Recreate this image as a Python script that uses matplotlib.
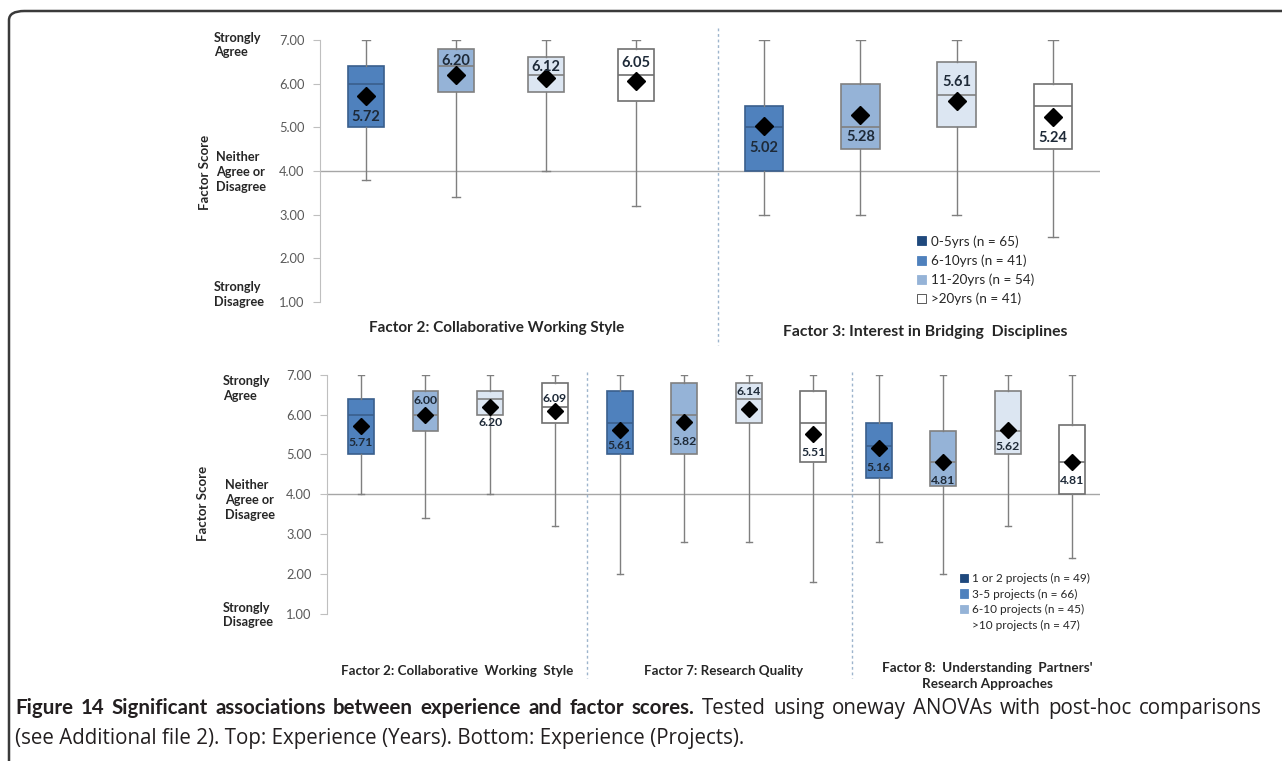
import matplotlib
matplotlib.use("Agg")
import matplotlib.pyplot as plt
from matplotlib.patches import Patch, FancyBboxPatch
from matplotlib.lines import Line2D

W, H = 1282, 761

# ---- data ----
groups_top = ["0-5yrs", "6-10yrs", "11-20yrs", ">20yrs"]
n_top = [65, 41, 54, 41]
groups_bot = ["1 or 2 projects", "3-5 projects", "6-10 projects", ">10 projects"]
n_bot = [49, 66, 45, 47]

# Top: Factor 2, Factor 3 (by years)
top_f2_low = [3.8, 3.4, 4.0, 3.2]
top_f2_q1 = [5.0, 5.8, 5.8, 5.6]
top_f2_med = [6.0, 6.4, 6.2, 6.2]
top_f2_q3 = [6.4, 6.8, 6.6, 6.8]
top_f2_high = [7.0, 7.0, 7.0, 7.0]
top_f2_mean = [5.72, 6.20, 6.12, 6.05]

top_f3_low = [3.0, 3.0, 3.0, 2.5]
top_f3_q1 = [4.0, 4.5, 5.0, 4.5]
top_f3_med = [5.0, 5.0, 5.75, 5.5]
top_f3_q3 = [5.5, 6.0, 6.5, 6.0]
top_f3_high = [7.0, 7.0, 7.0, 7.0]
top_f3_mean = [5.02, 5.28, 5.61, 5.24]

# Bottom: Factor 2, Factor 7, Factor 8 (by projects)
bot_f2_low = [4.0, 3.4, 4.0, 3.2]
bot_f2_q1 = [5.0, 5.6, 6.0, 5.8]
bot_f2_med = [6.0, 6.0, 6.4, 6.2]
bot_f2_q3 = [6.4, 6.6, 6.6, 6.8]
bot_f2_high = [7.0, 7.0, 7.0, 7.0]
bot_f2_mean = [5.71, 6.00, 6.20, 6.09]

bot_f7_low = [2.0, 2.8, 2.8, 1.8]
bot_f7_q1 = [5.0, 5.0, 5.8, 4.8]
bot_f7_med = [5.8, 6.0, 6.4, 5.8]
bot_f7_q3 = [6.6, 6.8, 6.8, 6.6]
bot_f7_high = [7.0, 7.0, 7.0, 7.0]
bot_f7_mean = [5.61, 5.82, 6.14, 5.51]

bot_f8_low = [2.8, 2.0, 3.2, 2.4]
bot_f8_q1 = [4.4, 4.2, 5.0, 4.0]
bot_f8_med = [5.2, 4.8, 5.6, 4.8]
bot_f8_q3 = [5.8, 5.6, 6.6, 5.75]
bot_f8_high = [7.0, 7.0, 7.0, 7.0]
bot_f8_mean = [5.16, 4.81, 5.62, 4.81]

yticks = [1, 2, 3, 4, 5, 6, 7]

caption_bold = "Figure 14 Significant associations between experience and factor scores."
caption_rest = "Tested using oneway ANOVAs with post-hoc comparisons"
caption_line2 = "(see Additional file 2). Top: Experience (Years). Bottom: Experience (Projects)."

# ---- layout / style ----
box_colors = ["#4F81BD", "#95B3D7", "#DCE6F2", "#FFFFFF"]
edge_colors = ["#3A5F8C", "#808080", "#808080", "#707070"]
legend_colors = ["#1F497D", "#4F81BD", "#95B3D7", "#FFFFFF"]
label_color = "#1E2A38"
FONT = "Lato"

plt.rcParams["font.family"] = [FONT, "DejaVu Sans"]

fig = plt.figure(figsize=(W / 100, H / 100), dpi=100)


def fx(px):
    return px / W


def fy(py):
    return 1 - py / H


def make_ax(x0, x1, y_top, y_bot, xlim):
    ax = fig.add_axes([fx(x0), fy(y_bot), fx(x1) - fx(x0), fy(y_top) - fy(y_bot)])
    ax.set_xlim(*xlim)
    ax.set_ylim(1, 7)
    for s in ["top", "right", "bottom", "left"]:
        ax.spines[s].set_visible(False)
    ax.set_xticks([])
    ax.set_yticks([])
    ax.patch.set_alpha(0)
    ax.axhline(4, color="#A6A6A6", lw=1.0, zorder=1)
    return ax


def draw_boxes(ax, low, q1, med, q3, high, mean, label_y, width, fs, msize):
    stats = []
    for i in range(len(med)):
        stats.append(dict(whislo=low[i], q1=q1[i], med=med[i], q3=q3[i],
                          whishi=high[i], mean=mean[i]))
    pos = list(range(1, len(med) + 1))
    res = ax.bxp(stats, positions=pos, widths=width, showmeans=True,
                 showfliers=False, patch_artist=True,
                 whiskerprops=dict(color="#7F7F7F", lw=1.0),
                 capprops=dict(color="#7F7F7F", lw=1.0),
                 meanprops=dict(marker="D", markerfacecolor="black",
                                markeredgecolor="black", markersize=msize),
                 manage_ticks=False, zorder=2)
    for i, b in enumerate(res["boxes"]):
        b.set_facecolor(box_colors[i])
        b.set_edgecolor(edge_colors[i])
        b.set_linewidth(1.2)
        res["medians"][i].set_color(edge_colors[i])
        res["medians"][i].set_linewidth(1.2)
    for c in res["caps"]:
        x = c.get_xdata()
        mid = (x[0] + x[1]) / 2
        c.set_xdata([mid - width * 0.12, mid + width * 0.12])
    for i, m in enumerate(mean):
        ax.text(pos[i], label_y[i], f"{m:.2f}", ha="center", va="center",
                fontsize=fs, fontweight="bold", color=label_color, zorder=4)


def y_axis(ax, tick_fs):
    ax.spines["left"].set_visible(True)
    ax.spines["left"].set_color("#BFBFBF")
    ax.set_yticks(yticks)
    ax.set_yticklabels([f"{v:.2f}" for v in yticks], fontsize=tick_fs, color="#595959")
    ax.tick_params(axis="y", length=5, color="#BFBFBF", pad=6)


def side_labels(y_top_px, y_mid_px, y_bot_px, x_px, score_x, score_y, fs):
    kw = dict(fontsize=fs, fontweight="bold", color="#262626", ha="left",
              va="center", linespacing=1.3)
    fig.text(fx(x_px), fy(y_top_px), "Strongly\nAgree", **kw)
    fig.text(fx(x_px + 2), fy(y_mid_px), "Neither\nAgree or\nDisagree", **kw)
    fig.text(fx(x_px), fy(y_bot_px), "Strongly\nDisagree", **kw)
    fig.text(fx(score_x), fy(score_y), "Factor Score", rotation=90, ha="center",
             va="center", fontsize=fs + 0.3, fontweight="bold", color="#262626")


def vsep(px, y0, y1):
    fig.add_artist(Line2D([fx(px), fx(px)], [fy(y0), fy(y1)], color="#9DB4CC",
                          lw=1.0, ls=(0, (2, 2))))


# ---- frame ----
frame = FancyBboxPatch((fx(9), fy(800)), fx(1400), fy(11) - fy(800),
                       boxstyle="round,pad=0,rounding_size=0.012",
                       transform=fig.transFigure, fill=False,
                       edgecolor="#3a3a3a", lw=1.8, clip_on=False)
fig.add_artist(frame)

# ---- top panel ----
t_top, t_bot = 40, 302
ax1 = make_ax(320, 718, t_top, t_bot, (1 - 46 / 90, 4 + 82 / 90))
ax2 = make_ax(718, 1100, t_top, t_bot, (1 - 46 / 96.3, 4 + 47 / 96.3))
draw_boxes(ax1, top_f2_low, top_f2_q1, top_f2_med, top_f2_q3, top_f2_high,
           top_f2_mean, [5.23, 6.53, 6.38, 6.47], 0.40, 10.5, 9)
draw_boxes(ax2, top_f3_low, top_f3_q1, top_f3_med, top_f3_q3, top_f3_high,
           top_f3_mean, [4.52, 4.78, 6.03, 4.75], 0.40, 10.5, 9)
y_axis(ax1, 9.3)
side_labels(45, 172, 295, 214, 205, 172, 9.2)
vsep(718, 28, 345)
fig.text(fx(497), fy(328), "Factor 2: Collaborative Working Style", ha="center",
         va="center", fontsize=11, fontweight="bold", color="#262626")
fig.text(fx(925), fy(332), "Factor 3: Interest in Bridging  Disciplines", ha="center",
         va="center", fontsize=11.3, fontweight="bold", color="#262626")
handles = [Patch(facecolor=legend_colors[i], edgecolor="#404040" if i == 3 else legend_colors[i],
                 lw=0.6) for i in range(4)]
fig.legend(handles, [f"{g} (n = {n})" for g, n in zip(groups_top, n_top)],
           loc="upper left", bbox_to_anchor=(fx(917), fy(235)), frameon=False,
           fontsize=9.7, handlelength=0.65, handleheight=0.65, handletextpad=0.4,
           labelspacing=0.5, borderaxespad=0, borderpad=0, labelcolor="#262626")

# ---- bottom panel ----
b_top, b_bot = 374.7, 614
ax3 = make_ax(327, 587, b_top, b_bot, (1 - 33.7 / 64.8, 4 + 32 / 64.8))
ax4 = make_ax(587, 852, b_top, b_bot, (1 - 32.7 / 64.5, 4 + 38.7 / 64.5))
ax5 = make_ax(852, 1100, b_top, b_bot, (1 - 26.7 / 64.5, 4 + 27.7 / 64.5))
draw_boxes(ax3, bot_f2_low, bot_f2_q1, bot_f2_med, bot_f2_q3, bot_f2_high,
           bot_f2_mean, [5.30, 6.36, 5.79, 6.40], 0.40, 8.8, 8)
draw_boxes(ax4, bot_f7_low, bot_f7_q1, bot_f7_med, bot_f7_q3, bot_f7_high,
           bot_f7_mean, [5.23, 5.32, 6.57, 5.05], 0.40, 8.8, 8)
draw_boxes(ax5, bot_f8_low, bot_f8_q1, bot_f8_med, bot_f8_q3, bot_f8_high,
           bot_f8_mean, [4.68, 4.34, 5.21, 4.34], 0.40, 8.8, 8)
y_axis(ax3, 9.3)
side_labels(389, 500, 615, 223, 203, 503, 9.2)
vsep(587, 372, 678)
vsep(852, 372, 678)
fig.text(fx(457), fy(671), "Factor 2: Collaborative  Working  Style", ha="center",
         va="center", fontsize=9.6, fontweight="bold", color="#262626")
fig.text(fx(724), fy(671), "Factor 7: Research Quality", ha="center",
         va="center", fontsize=9.6, fontweight="bold", color="#262626")
fig.text(fx(987), fy(676), "Factor 8:  Understanding  Partners'\nResearch Approaches",
         ha="center", va="center", fontsize=9.7, fontweight="bold", color="#262626",
         linespacing=1.45)
handles = [Patch(facecolor=legend_colors[i], edgecolor=legend_colors[i] if i < 3 else "none",
                 lw=0.6) for i in range(4)]
fig.legend(handles, [f"{g} (n = {n})" for g, n in zip(groups_bot, n_bot)],
           loc="upper left", bbox_to_anchor=(fx(960), fy(573)), frameon=False,
           fontsize=8.5, handlelength=0.7, handleheight=0.7, handletextpad=0.3,
           labelspacing=0.38, borderaxespad=0, borderpad=0, labelcolor="#262626")

# ---- caption (justified first line, like the journal layout) ----
cap_color = "#231F20"
reg_font = ["Open Sans", "DejaVu Sans"]
bold_font = ["Lato", "DejaVu Sans"]
renderer = fig.canvas.get_renderer()

# fit the caption size to the width of the second line
probe = fig.text(0, 0, caption_line2, fontsize=10, family=reg_font)
w10 = probe.get_window_extent(renderer).width
probe.remove()
cap_fs = 10 * (745 - 15) / w10

words = [(w, True) for w in caption_bold.split()] + [(w, False) for w in caption_rest.split()]
arts = []
for w, is_bold in words:
    t = fig.text(0, fy(714), w, ha="left", va="baseline", fontsize=cap_fs,
                 fontweight="bold" if is_bold else "normal",
                 family=bold_font if is_bold else reg_font, color=cap_color)
    arts.append(t)
widths = [a.get_window_extent(renderer).width for a in arts]
gap = (1262 - 15 - sum(widths)) / (len(arts) - 1)
x = 15
for a, wd in zip(arts, widths):
    a.set_x(fx(x))
    x += wd + gap
fig.text(fx(15), fy(744), caption_line2, ha="left", va="baseline", fontsize=cap_fs,
         family=reg_font, color=cap_color)

fig.savefig("out.png", dpi=100)
